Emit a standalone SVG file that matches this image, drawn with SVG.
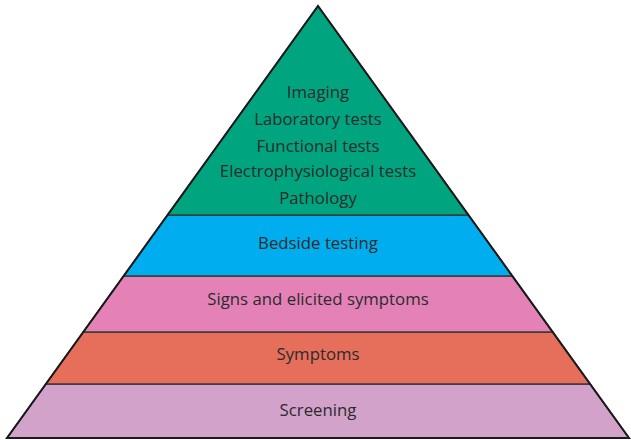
<svg xmlns="http://www.w3.org/2000/svg" width="631" height="440" viewBox="0 0 631 440">
  <style>
    .band { stroke: #3a3a3a; stroke-width: 1.5; }
    .label { font-family: "Open Sans", "Noto Sans", sans-serif; font-size: 16.8px; fill: #2b2b2b; text-anchor: middle; }
    .outline { fill: none; stroke: #1a1a1a; stroke-width: 2; stroke-linejoin: miter; }
  </style>
  <rect width="631" height="440" fill="#ffffff"/>
  <!-- pyramid tiers, bottom to top; edges run from apex (318,6) to (7,438) and (629,438) -->
  <g id="screening">
    <polygon class="band" fill="#d3a2cb" points="45.9,384 590.1,384 629,438 7,438"/>
    <text class="label" x="318" y="416">Screening</text>
  </g>
  <g id="symptoms">
    <polygon class="band" fill="#e56f5b" points="83.3,332 552.7,332 590.1,384 45.9,384"/>
    <text class="label" x="318" y="360">Symptoms</text>
  </g>
  <g id="signs">
    <polygon class="band" fill="#e482b7" points="123.7,276 512.3,276 552.7,332 83.3,332"/>
    <text class="label" x="318" y="305">Signs and elicited symptoms</text>
  </g>
  <g id="bedside">
    <polygon class="band" fill="#00aeef" points="167.6,215 468.4,215 512.3,276 123.7,276"/>
    <text class="label" x="318" y="249">Bedside testing</text>
  </g>
  <g id="investigations">
    <polygon class="band" fill="#00a47f" points="318,6 468.4,215 167.6,215"/>
    <text class="label" x="318" y="98">Imaging</text>
    <text class="label" x="318" y="125">Laboratory tests</text>
    <text class="label" x="318" y="152">Functional tests</text>
    <text class="label" x="318" y="177">Electrophysiological tests</text>
    <text class="label" x="318" y="204">Pathology</text>
  </g>
  <polygon class="outline" points="318,6 629,438 7,438"/>
</svg>
